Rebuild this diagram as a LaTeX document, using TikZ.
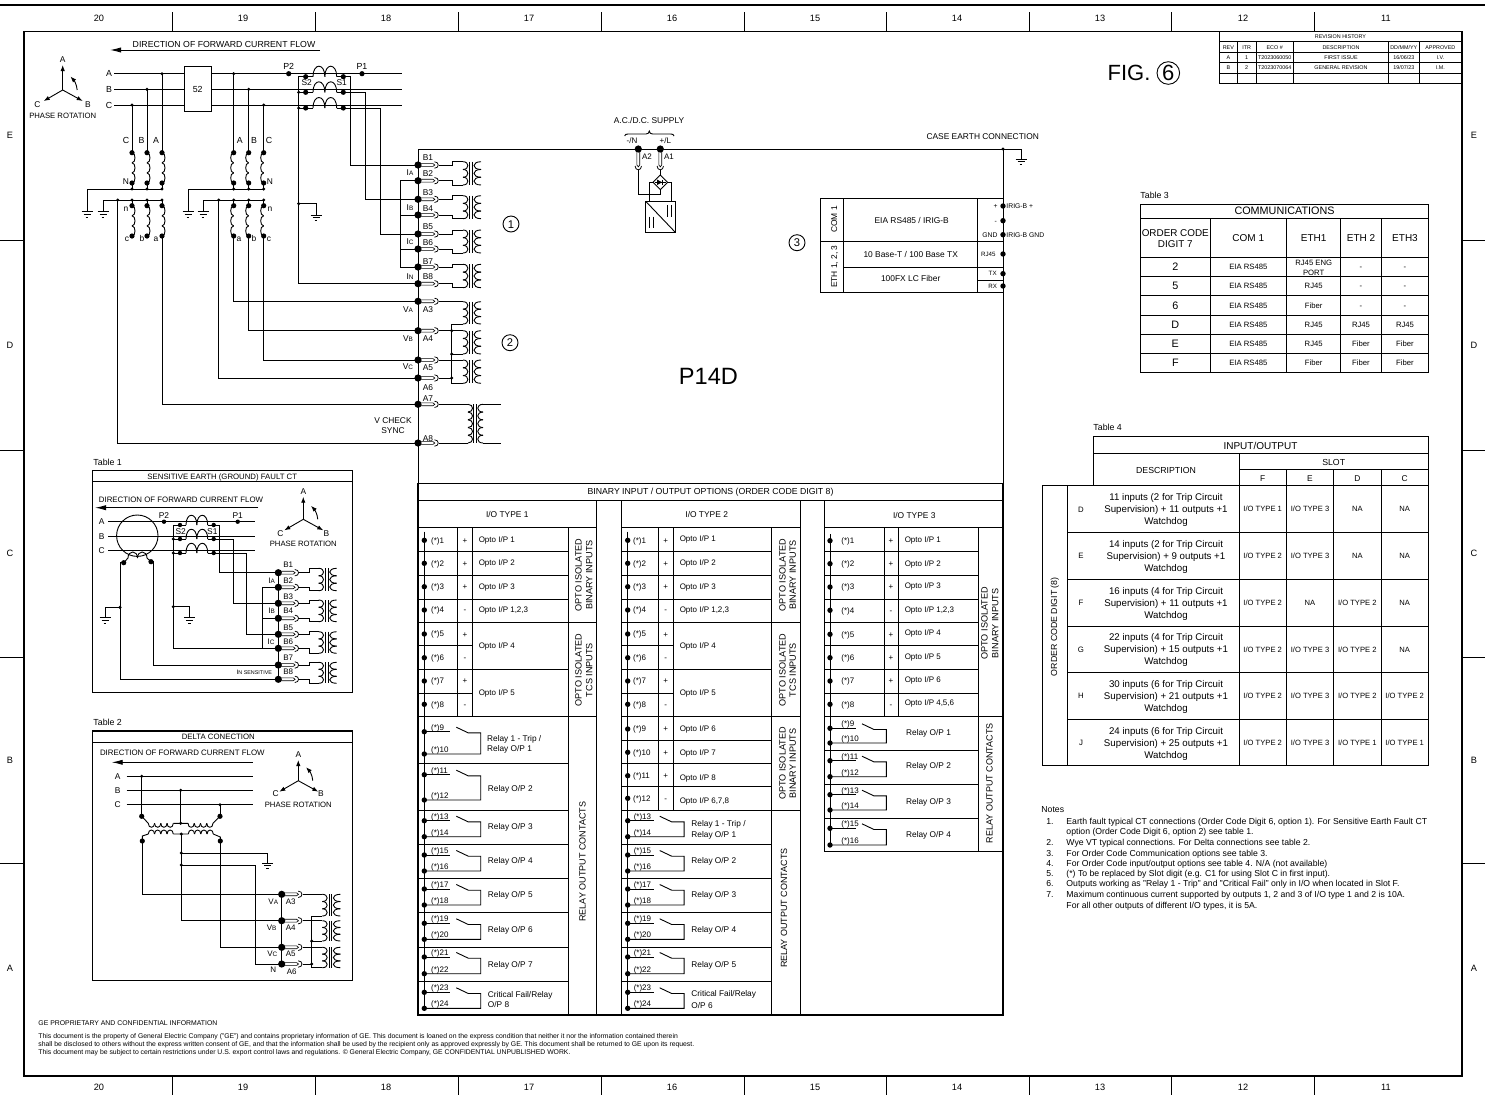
\documentclass[tikz,border=0pt]{standalone}
\usepackage{fontspec}
\setmainfont{Liberation Sans}
\usetikzlibrary{arrows.meta}
\newcounter{tn}
\newcommand{\tx}[4][]{\stepcounter{tn}\node[inner sep=0pt,text height=\the\dimexpr#3pt*72/100\relax,text depth=0pt,font=\fontsize{#3pt}{#3pt}\selectfont,#1] (t\arabic{tn}) at (#2) {#4};}
\newcommand{\subs}[2]{#1{\fontsize{3.2pt}{3.2pt}\selectfont #2}}
\newcommand{\sdot}[1]{\fill (#1) circle (1.7);}
\newcommand{\mdot}[1]{\fill (#1) circle (2.6);}
\newcommand{\coilV}[5]{\pgfmathsetmacro\cSt{(#3-#2)/#5}\foreach \i in {1,...,#5}{\pgfmathsetmacro\cA{#2+(\i-1)*\cSt}\pgfmathsetmacro\cB{#2+\i*\cSt}\draw (#1,\cA) .. controls (#1+#4,\cA) and (#1+#4,\cB) .. (#1,\cB);}}
\newcommand{\coilH}[5]{\pgfmathsetmacro\cSt{(#2-#1)/#5}\foreach \i in {1,...,#5}{\pgfmathsetmacro\cA{#1+(\i-1)*\cSt}\pgfmathsetmacro\cB{#1+\i*\cSt}\draw (\cA,#3) .. controls (\cA,#3+#4) and (\cB,#3+#4) .. (\cB,#3);}}
% terminal: name, x, y
\newcommand{\term}[3]{\coordinate (#1) at (#2,#3);\coordinate (#1-l) at (#2+21,#3);
 \fill (#1) circle (3.6);
 \draw[line width=.32pt] (#2,#3-1.4) -- (#2+15,#3-1.4) .. controls (#2+17.4,#3-1.4) and (#2+17.4,#3+1.4) .. (#2+15,#3+1.4) -- (#2,#3+1.4);
 \draw[line width=.38pt] (#2+16.5,#3-3.2) .. controls (#2+21.5,#3-3.2) and (#2+21.5,#3+3.2) .. (#2+16.5,#3+3.2);}
% transformer core + coils: core x, ytop, ybot
\newcommand{\xfmr}[3]{\coilV{#1-8}{#2}{#3}{6.5}{3}\coilV{#1+10}{#2}{#3}{-9.3}{3}
 \draw (#1-1.3,#2) -- (#1-1.3,#3) (#1+1.3,#2) -- (#1+1.3,#3);}
% CT aux transformer fed by two terminals: A, B, lead x, core x, ytop, ybot
\newcommand{\ctg}[6]{\xfmr{#4}{#5}{#6}
 \coordinate (lt) at (#3,#5);\coordinate (lb) at (#3,#6);
 \draw (#1-l) -- (#1-l -| lt) -- (lt) -- (#4-8,#5);
 \draw (#2-l) -- (#2-l -| lb) -- (lb) -- (#4-8,#6);}
\newcommand{\gnd}[1]{\begin{scope}[shift={(#1)}]\draw[line width=.5pt] (-5.5,0) -- (5.5,0) (-3.5,2.8) -- (3.5,2.8) (-1.3,5.7) -- (1.3,5.7);\end{scope}}
% phase rotation: x,y, A tip, A label, B/C label dx, dy, PR dy
\newcommand{\phrot}[7]{\begin{scope}[shift={(#1,#2)}]
 \draw[arr] (0,0) -- (0,#3);\draw[arr] (0,0) -- (20,11);\draw[arr] (0,0) -- (-19,11);
 \draw[arr] (14.5,0) .. controls (14,-6) and (11,-10) .. (7.7,-13.5);
 \tx{0,#4}{4.2}{A}\tx{#5,#6}{4.2}{B}\tx{-#5,#6}{4.2}{C}\tx{0,#7}{3.85}{PHASE ROTATION}\end{scope}}
\newcommand{\iot}[4]{\fill (#1,#4) circle (2.7);\tx[anchor=west]{#2,#4}{4}{(*)#3}}
\newcommand{\relay}[6]{\fill (#1,#5) circle (2.7);\fill (#1,#6) circle (2.7);
 \draw (#1,#5) -- (#1+26,#5);
 \draw (#1+32,#5-4.5) -- (#1+44,#5+1.2) -- (#1+56.4,#5+1.2) -- (#1+56.4,#6) -- (#1,#6);
 \tx[anchor=west]{#2,#5-4.5}{4}{(*)#3}\tx[anchor=west]{#2,#6-4.5}{4}{(*)#4}}
\newcommand{\rowC}[6]{\tx{1175.3,#1}{5.4}{#2}\tx{1248.3,#1}{3.85}{#3}\tx{1313.7,#1}{3.85}{#4}\tx{1361,#1}{3.85}{#5}\tx{1405,#1}{3.85}{#6}}
\newcommand{\rowD}[8]{\tx{1081,#1}{3.9}{#2}\tx{1166,#1-12}{4.85}{#3}\tx{1166,#1}{4.85}{#4}\tx{1166,#1+12}{4.85}{Watchdog}
 \tx{1262.7,#1}{3.8}{#5}\tx{1310,#1}{3.8}{#6}\tx{1357.3,#1}{3.8}{#7}\tx{1404.7,#1}{3.8}{#8}}
\tikzset{arr/.style={-{Latex[length=3pt,width=2.2pt]}},flow/.style={-{Latex[length=5.5pt,width=2.6pt]}}}
\begin{document}
\begin{tikzpicture}[x=0.5pt,y=-0.5pt,line width=0.45pt]
\useasboundingbox (0,0) rectangle (1485,1099);
\fill[white] (0,0) rectangle (1485,1099);
% ---------- sheet frame
\draw[line width=.6pt] (0,5) -- (1485,5);
\draw[line width=.55pt] (24,31.5) rectangle (1462,1076);
\foreach \x in {172,315,458,601,744,886,1029,1171,1314}{\draw (\x,12) -- (\x,31.5) (\x,1076) -- (\x,1095);}
\foreach \y in {240,450,657,863}{\draw (0,\y) -- (24,\y) (1462,\y) -- (1485,\y);}
\foreach \x/\n in {99/20,243/19,386/18,529/17,672/16,815/15,957/14,1100/13,1243/12,1386/11}{\tx{\x,18}{4.6}{\n}\tx{\x,1087}{4.6}{\n}}
\foreach \y/\n in {135/E,345/D,553/C,760/B,968/A}{\tx{10,\y}{4.6}{\n}\tx{1474,\y}{4.6}{\n}}
% ---------- revision table
\draw (1219.3,31.7) rectangle (1461.7,83.3);
\foreach \y in {41.7,52.7,62.7,73}{\draw (1219.3,\y) -- (1461.7,\y);}
\foreach \x in {1237.3,1256,1293.3,1388.7,1419}{\draw (\x,41.7) -- (\x,83.3);}
\tx{1340.5,36.7}{2.7}{REVISION HISTORY}
\foreach \x/\s in {1228.3/REV,1246.7/ITR,1274.7/ECO \#,1341/DESCRIPTION,1403.8/{DD/MM/YY},1440.3/APPROVED}{\tx{\x,47.2}{2.7}{\s}}
\foreach \x/\s in {1228.3/A,1246.7/1,1274.7/T2023060050,1341/FIRST ISSUE,1403.8/{16/06/23},1440.3/I.V.}{\tx{\x,57.7}{2.7}{\s}}
\foreach \x/\s in {1228.3/B,1246.7/2,1274.7/T2023070064,1341/GENERAL REVISION,1403.8/{19/07/23},1440.3/I.M.}{\tx{\x,67.8}{2.7}{\s}}
\tx{1129,72.5}{11}{FIG.}
\draw (1168.3,73) circle (11.3);\tx{1168.3,73}{11}{6}
% ---------- main current/phase inputs
\tx{224,44.7}{4.37}{DIRECTION OF FORWARD CURRENT FLOW}
\draw[flow] (320,50) -- (110,50);
\phrot{62.7}{90}{-25}{-31}{25.3}{14}{26}
\foreach \y/\n in {73.7/A,89.3/B,105/C}{\draw (114,\y) -- (401.7,\y);\tx{109,\y}{4.4}{\n}}
\draw[fill=white] (184,66.7) rectangle (211,111.3);\tx{197.7,89.7}{4.4}{52}
% terminals
\term{B1}{418}{165}\term{B2}{418}{180.7}\term{B3}{418}{199.3}\term{B4}{418}{215}
\term{B5}{418}{234}\term{B6}{418}{249}\term{B7}{418}{267}\term{B8}{418}{283.7}
\term{A3}{418}{301.3}\term{A4}{418}{330.7}\term{A5}{418}{360}\term{A6}{418}{378}
\term{A7}{418}{404.3}\term{A8}{418}{443}
\foreach \y/\n in {157.7/B1,173/B2,192.7/B3,208/B4,226/B5,242/B6,261/B7,276.7/B8,309.7/A3,338.7/A4,367.7/A5,387/A6,398.7/A7,438/A8}{\tx{428,\y}{4.2}{\n}}
\tx{410,172.7}{4.2}{\subs{I}{A}}\tx{410,207.7}{4.2}{\subs{I}{B}}\tx{410,241.7}{4.2}{\subs{I}{C}}\tx{410,276.7}{4.2}{\subs{I}{N}}
\tx{408,309.7}{4.2}{\subs{V}{A}}\tx{408,338.7}{4.2}{\subs{V}{B}}\tx{408,366.7}{4.2}{\subs{V}{C}}
\tx{393,420.7}{4.2}{V CHECK}\tx{393,430.5}{4.2}{SYNC}
% VTs
\foreach \x/\d/\y in {132/4/105,147/4/89.3,162/4/73.7,233.7/-4/73.7,248.7/-4/89.3,263.7/-4/105}{
 \draw (\x,\y) -- (\x,152.7) (\x,183) -- (\x,189) (\x,200) -- (\x,205.7);
 \coilV{\x}{152.7}{183}{\d}{3}\coilV{\x}{205.7}{236}{\d}{3}
 \sdot{\x,\y}\mdot{\x,152.7}\mdot{\x,183}\sdot{\x,189}\sdot{\x,200}\mdot{\x,205.7}\mdot{\x,236}}
\foreach \x/\n in {126/C,141.6/B,156/A,239.7/A,254/B,269/C}{\tx{\x,140}{4.4}{\n}}
\draw (87,211.7) -- (87,189) -- (162,189) (103,211.7) -- (103,200) -- (162,200);
\draw (188,211.7) -- (188,189) -- (263.7,189) (203,211.7) -- (203,200) -- (263.7,200);
\gnd{87,211.7}\gnd{103,211.7}\gnd{188,211.7}\gnd{203,211.7}
\tx{126,181}{4.2}{N}\tx{270,181}{4.2}{N}\tx{126,208}{4.2}{n}\tx{270,208}{4.2}{n}
\tx{127,238}{4.2}{c}\tx{142,238}{4.2}{b}\tx{156,238}{4.2}{a}\tx{239,238}{4.2}{a}\tx{254,238}{4.2}{b}\tx{269,238}{4.2}{c}
\sdot{117.7,200}\sdot{218.7,200}
\draw (117.7,200) -- (117.7,443) -- (A8);
\draw (162,236) -- (162,404.3) -- (A7);
\draw (218.7,200) -- (218.7,378) -- (A6);
\draw (233.7,236) -- (233.7,301.3) -- (A3);
\draw (248.7,236) -- (248.7,330.7) -- (A4);
\draw (263.7,236) -- (263.7,360) -- (A5);
% CTs
\fill (288.7,73.7) circle (2.6);\fill (362,73.7) circle (2.6);
\tx{288.7,66}{4.4}{P2}\tx{362,66}{4.4}{P1}
\tx{306.7,82.7}{4.2}{S2}\tx{341.7,82.7}{4.2}{S1}
\foreach \y in {76.7,92.3,108}{\draw (305.7,\y) -- (313,\y) (336.7,\y) -- (343.3,\y);\coilH{313}{336.7}{\y}{-14}{2}\mdot{305.7,\y}\mdot{343.3,\y}}
\draw (305.7,76.7) -- (298.7,76.7) -- (298.7,283.7) -- (B8);
\draw (298.7,92.3) -- (305.7,92.3) (298.7,108) -- (305.7,108);
\sdot{298.7,92.3}\sdot{298.7,108}\sdot{298.7,203.7}
\draw (298.7,203.7) -- (316,203.7) -- (316,215);\gnd{316,215}
\draw (343.3,76.7) -- (350.3,76.7) -- (350.3,165) -- (B1);
\draw (343.3,92.3) -- (365.3,92.3) -- (365.3,199.3) -- (B3);
\draw (343.3,108) -- (380.3,108) -- (380.3,234) -- (B5);
\draw (B2) -- (400,180.7) -- (400,267) -- (B7);
\draw (400,215) -- (B4) (400,249) -- (B6);
% CT aux transformers
\ctg{B1}{B2}{452}{471}{161.7}{185}
\ctg{B3}{B4}{452}{471}{195.7}{218.7}
\ctg{B5}{B6}{452}{471}{230}{253}
\ctg{B7}{B8}{452}{471}{264.3}{287.7}
% VT aux transformers
\xfmr{471}{301.7}{324}\xfmr{471}{330.7}{354}\xfmr{471}{360}{383.3}
\draw (A3-l) -- (463,301.3);\draw (A4-l) -- (463,330.7);\draw (A5-l) -- (463,360);
\draw (463,324) -- (451.7,324) -- (451.7,383.3) -- (463,383.3);
\draw (451.7,354) -- (463,354);\draw (A6-l) -- (451.7,378);
\sdot{451.7,330.7}\sdot{451.7,354}\sdot{451.7,378}
% sync transformer
\coilV{468}{404.3}{443}{6}{5}\coilV{483}{404.3}{443}{-7}{5}
\draw (473.7,404.3) -- (473.7,443) (476.3,404.3) -- (476.3,443);
\draw (A7-l) -- (468,404.3);\draw (A8-l) -- (468,443);
\draw (483,404.3) -- (501,404.3) (483,443) -- (501,443);
\draw (418,149) -- (418,1015);
\draw (418,149) -- (1021,149) -- (1021,159);\gnd{1021,159}
\sdot{1003,149}\draw (1003,149) -- (1003,1015);
\tx{982.7,136}{4.2}{CASE EARTH CONNECTION}
\draw (511,224) circle (8);\tx{511,224}{5.6}{1}
\draw (510,342.7) circle (8);\tx{510,342.7}{5.6}{2}
\draw (797,242.7) circle (8);\tx{797,242.7}{5.6}{3}
% ---------- aux supply
\tx{649,120.7}{4.2}{A.C./D.C. SUPPLY}
\draw (624.7,136) .. controls (625,134.5) and (626,134) .. (628,134) -- (646,134) .. controls (648,134) and (649,133) .. (649.3,131) .. controls (649.6,133) and (650.6,134) .. (652.6,134) -- (670.7,134) .. controls (672.7,134) and (673.7,134.5) .. (674,136);
\tx{632,140.7}{4}{-/N}\tx{665.3,140.7}{4}{+/L}\tx{647,157}{4}{A2}\tx{669,157}{4}{A1}
\foreach \x in {638.3,660.3}{\fill (\x,149) circle (3.6);
 \draw[line width=.32pt] (\x-1.4,149) -- (\x-1.4,165) .. controls (\x-1.4,167.4) and (\x+1.4,167.4) .. (\x+1.4,165) -- (\x+1.4,149);
 \draw[line width=.38pt] (\x-3.2,166) .. controls (\x-3.2,171) and (\x+3.2,171) .. (\x+3.2,166);}
\draw (638.3,170) -- (638.3,194.3) -- (660.3,194.3) -- (660.3,189.6);
\draw (660.3,170) -- (660.3,175);
\draw (660.3,175) -- (667.6,182.3) -- (660.3,189.6) -- (653,182.3) -- cycle;
\draw (654.5,182.3) -- (666,182.3) (662.6,179.8) -- (662.6,184.8);
\fill (657,179.6) -- (662.3,182.3) -- (657,185) -- cycle;
\draw (653,182.3) -- (649.3,182.3) -- (649.3,201.3);
\draw (667.6,182.3) -- (671.7,182.3) -- (671.7,201.3);
\draw (645.7,201.3) rectangle (675.3,232.3);
\draw (645.7,201.3) -- (675.3,232.3);
\draw (667.3,205) -- (667.3,216.7) (671.3,205) -- (671.3,216.7);
\draw (649.3,216.7) -- (649.3,228.3) (653.3,216.7) -- (653.3,228.3);
% ---------- comms block
\draw (820.7,198.7) rectangle (1003,292.3);
\draw (820.7,241.3) -- (1003,241.3);
\draw (843.3,198.7) -- (843.3,292.3) (977.7,198.7) -- (977.7,292.3);
\draw (843.3,267) -- (1003,267) (977.7,280.3) -- (1003,280.3);
\tx[rotate=90]{834,219.3}{4.2}{COM 1}\tx[rotate=90]{834,266.7}{4.2}{ETH 1, 2, 3}
\tx{911.7,220}{4.2}{EIA RS485 / IRIG-B}\tx{910.7,254}{4.2}{10 Base-T / 100 Base TX}\tx{910.7,278}{4.2}{100FX LC Fiber}
\tx{995.7,206}{3.4}{+}\tx{995.7,220.7}{3.4}{-}\tx{990,234.7}{3.4}{GND}\tx{988.3,254}{3.1}{RJ45}\tx{992.7,273.7}{3.1}{TX}\tx{992.7,286}{3.1}{RX}
\foreach \y in {206,220.7,234.7,254,273.7,286}{\fill (1003,\y) circle (2.7);}
\tx[anchor=west]{1006,206}{3.4}{IRIG-B +}\tx[anchor=west]{1006,234.7}{3.4}{IRIG-B GND}
\tx{708.5,376}{11.8}{P14D}
% ---------- table 1
\tx[anchor=west]{93,462.7}{4.4}{Table 1}
\draw[line width=.55pt] (92.7,470.7) rectangle (352.3,692.3);
\draw (92.7,481.3) -- (352.3,481.3);
\tx{222.3,476.5}{3.9}{SENSITIVE EARTH (GROUND) FAULT CT}
\tx{181,500}{3.93}{DIRECTION OF FORWARD CURRENT FLOW}
\draw[flow] (258.3,507.7) -- (95,507.7);
\phrot{303.3}{519.3}{-22.6}{-28}{23}{13.7}{24}
\foreach \y/\n in {521.7/A,536/B,550/C}{\draw (108.3,\y) -- (255,\y);\tx{101.7,\y}{4.2}{\n}}
\draw (137.3,535.7) circle (20.7);
\draw (123.7,562.7) -- (128,558);\coilH{128}{147}{558}{-8}{2}\draw (147,558) -- (151,561.7);
\mdot{123.7,562.7}\mdot{151,561.7}
\fill (164,521.7) circle (2.2);\fill (237.7,521.7) circle (2.2);
\tx{164,515}{4.2}{P2}\tx{237.7,515}{4.2}{P1}\tx{180.7,531}{4.2}{S2}\tx{212.3,531}{4.2}{S1}
\foreach \y in {525,539,553}{\draw (180,\y) -- (186,\y) (207.7,\y) -- (213.7,\y);\coilH{186}{207.7}{\y}{-13}{2}\fill (180,\y) circle (2.2);\fill (213.7,\y) circle (2.2);}
\term{tB1}{278.3}{572.7}\term{tB2}{278.3}{587.3}\term{tB3}{278.3}{603.3}\term{tB4}{278.3}{618.3}
\term{tB5}{278.3}{634.3}\term{tB6}{278.3}{648.3}\term{tB7}{278.3}{665}\term{tB8}{278.3}{679.3}
\draw (tB1) -- (tB8);
\foreach \y/\n in {565/B1,580.7/B2,596.7/B3,611/B4,628/B5,641.7/B6,658/B7,672/B8}{\tx{288.3,\y}{4}{\n}}
\tx{271.7,580.7}{4}{\subs{I}{A}}\tx{271.7,611}{4}{\subs{I}{B}}\tx{271,642}{4}{\subs{I}{C}}
\tx{254.3,672}{3.2}{I{\fontsize{2.7pt}{2.7pt}\selectfont N SENSITIVE}}
\draw (123.7,562.7) -- (120,562.7) -- (120,679.3) -- (tB8);
\draw (151,561.7) -- (153.3,561.7) -- (153.3,665) -- (tB7);
\sdot{120,607.3}\draw (120,607.3) -- (105,607.3) -- (105,617.7);\gnd{105,617.7}
\draw (180,525) -- (173.3,525) -- (173.3,648.3) -- (tB6);
\draw (173.3,539) -- (180,539) (173.3,553) -- (180,553);
\sdot{173.3,539}\sdot{173.3,553}\sdot{173.3,606.7}
\draw (173.3,606.7) -- (189.3,606.7) -- (189.3,617.7);\gnd{189.3,617.7}
\draw (213.7,525) -- (219.3,525) -- (219.3,572.7) -- (tB1);
\draw (213.7,539) -- (233.3,539) -- (233.3,603.3) -- (tB3);
\draw (213.7,553) -- (246.7,553) -- (246.7,634.3) -- (tB5);
\draw (tB2) -- (262.7,587.3) -- (262.7,648.3);\draw (262.7,618.3) -- (tB4);
\ctg{tB1}{tB2}{309}{326.7}{568.3}{590.7}
\ctg{tB3}{tB4}{309}{326.7}{600}{621.7}
\ctg{tB5}{tB6}{309}{326.7}{631.7}{653.3}
\ctg{tB7}{tB8}{309}{326.7}{662.3}{683.3}
% ---------- table 2
\tx[anchor=west]{93,722.7}{4.4}{Table 2}
\draw[line width=.55pt] (92.7,731) rectangle (352.3,980.7);
\draw (92.7,742.7) -- (352.3,742.7);
\tx{218.3,737}{3.9}{DELTA CONECTION}
\tx{182.3,752.7}{3.94}{DIRECTION OF FORWARD CURRENT FLOW}
\draw[flow] (252.7,762.3) -- (111.7,762.3);
\phrot{298.3}{780.7}{-20.7}{-26.7}{22.7}{13}{24.3}
\foreach \y/\n in {776.3/A,790.3/B,804.7/C}{\draw (126.7,\y) -- (252.7,\y);\tx{117.7,\y}{4.2}{\n}}
\draw (141.7,776.3) -- (141.7,816.3) (180.7,790.3) -- (180.7,823.3) (220,804.7) -- (220,816.3);
\sdot{141.7,776.3}\sdot{180.7,790.3}\sdot{220,804.7}\mdot{141.7,816.3}\mdot{220,816.3}\sdot{180.7,823.3}
\draw (141.7,816.3) -- (148.3,823.3) (173.3,823.3) -- (188,823.3) (220,816.3) -- (213,823.3);
\coilH{148.3}{173.3}{823.3}{5.3}{4}\coilH{188}{213}{823.3}{5.3}{4}
\draw (142.3,841) -- (142.3,836) -- (148.3,834) (173.3,834) -- (188.3,834) (213.3,834) -- (220.3,837) -- (220.3,841);
\coilH{148.3}{173.3}{834}{-5.3}{4}\coilH{188.3}{213.3}{834}{-5.3}{4}
\mdot{142.3,841}\mdot{220.3,841}\sdot{181.3,834}\sdot{181.3,853}\sdot{181.3,865}
\term{dA3}{281.7}{894.3}\term{dA4}{281.7}{920.7}\term{dA5}{281.7}{947.3}\term{dA6}{281.7}{964}
\draw (dA3) -- (dA6);
\draw (142.3,841) -- (142.3,894.3) -- (dA3);
\draw (181.3,834) -- (181.3,920.7) -- (dA4);
\draw (220.3,841) -- (220.3,947.3) -- (dA5);
\draw (181.3,853) -- (267.7,853) -- (267.7,863);\gnd{267.7,863}
\draw (181.3,865) -- (255,865) -- (255,964) -- (dA6);
\tx{273.3,901.7}{4}{\subs{V}{A}}\tx{290.7,902}{4}{A3}\tx{271.7,927.7}{4}{\subs{V}{B}}\tx{290.7,928}{4}{A4}
\tx{272.3,954}{4}{\subs{V}{C}}\tx{290.7,954}{4}{A5}\tx{273.3,970}{4}{N}\tx{291.7,971.7}{4}{A6}
\xfmr{330.3}{894.3}{916}\xfmr{330.3}{920.7}{941}\xfmr{330.3}{947.3}{967.7}
\draw (dA3-l) -- (322.3,894.3);\draw (dA4-l) -- (322.3,920.7);\draw (dA5-l) -- (322.3,947.3);
\draw (322.3,916) -- (311.7,916) -- (311.7,967.7) -- (322.3,967.7);
\draw (311.7,941) -- (322.3,941);\draw (dA6-l) -- (311.7,964);
\sdot{311.7,941}\sdot{311.7,964}
% ---------- binary I/O block
\draw[line width=.55pt] (418,483.3) rectangle (1003,1015);
\draw (418,500.7) -- (1003,500.7);
\tx{710.5,491.5}{4.36}{BINARY INPUT / OUTPUT OPTIONS (ORDER CODE DIGIT 8)}
\draw (596.7,500.7) -- (596.7,1015) (621.3,500.7) -- (621.3,1015) (800,500.7) -- (800,1015) (824.3,500.7) -- (824.3,851.7) -- (1003,851.7);
\foreach \a/\b in {418/596.7,621.3/800,824.3/1003}{\draw (\a,527.7) -- (\b,527.7);}
\tx{507.3,514.3}{4.2}{I/O TYPE 1}\tx{706.7,514.3}{4.2}{I/O TYPE 2}\tx{914.3,515}{4.2}{I/O TYPE 3}
% type 1
\foreach \y in {551.7,575.7,599,622.3,669,716.7,763.7,810.3,844.3,878.3,912.3,947,981}{\draw (418,\y) -- (568.7,\y);}
\draw (418,645.7) -- (472.3,645.7) (418,693) -- (472.3,693);
\draw (457.7,527.7) -- (457.7,716.7) (472.3,527.7) -- (472.3,716.7) (568.7,527.7) -- (568.7,1015);
\draw (568.7,622.3) -- (596.7,622.3) (568.7,716.7) -- (596.7,716.7);
\draw (424.3,531.7) -- (424.3,1008.3);
\foreach \n/\y in {1/540.3,2/563.3,3/586.7,4/610,5/634,6/657.7,7/681,8/704.3}{\iot{424.3}{430.7}{\n}{\y}}
\foreach \y/\s in {540.3/+,563.3/+,586.7/+,610/-,635/+,657.7/-,680.7/+,704.3/-}{\tx{465,\y}{4}{\s}}
\foreach \y/\s in {540/{Opto I/P 1},562.7/{Opto I/P 2},586.7/{Opto I/P 3},646/{Opto I/P 4},692.7/{Opto I/P 5}}{\tx[anchor=west]{478.3,\y}{4}{\s}}
\tx[anchor=west]{478.3,609.3}{4}{Opto I/P 1,2,3}
\relay{424.3}{430.7}{9}{10}{731.7}{754}\relay{424.3}{430.7}{11}{12}{774.7}{800}
\relay{424.3}{430.7}{13}{14}{820.7}{836.7}\relay{424.3}{430.7}{15}{16}{855}{871}
\relay{424.3}{430.7}{17}{18}{889}{905}\relay{424.3}{430.7}{19}{20}{923.3}{939.3}
\relay{424.3}{430.7}{21}{22}{957}{973.7}\relay{424.3}{430.7}{23}{24}{992.3}{1008.3}
\tx[anchor=west]{486.7,738}{4.15}{Relay 1 - Trip /}\tx[anchor=west]{486.7,749}{4.15}{Relay O/P 1}
\foreach \y/\s in {788.7/{Relay O/P 2},826.7/{Relay O/P 3},860.7/{Relay O/P 4},894/{Relay O/P 5},929.7/{Relay O/P 6},964.7/{Relay O/P 7},994/{Critical Fail/Relay},1004.3/{O/P 8}}{\tx[anchor=west]{487.5,\y}{4.15}{\s}}
\tx[rotate=90]{578.3,575}{4.55}{OPTO ISOLATED}\tx[rotate=90]{589,575}{4.55}{BINARY INPUTS}
\tx[rotate=90]{578.3,670}{4.55}{OPTO ISOLATED}\tx[rotate=90]{589,670}{4.55}{TCS INPUTS}
\tx[rotate=90]{582.3,861.7}{4.5}{RELAY OUTPUT CONTACTS}
% type 2
\foreach \y in {551.7,575.7,599,622.3,669,716.7,740,763.7,786.7,810.3,844.3,878.3,912.3,947,981}{\draw (621.3,\y) -- (771.7,\y);}
\draw (621.3,645.7) -- (673,645.7) (621.3,693) -- (673,693);
\draw (658.3,527.7) -- (658.3,810.3) (673,527.7) -- (673,810.3) (771.7,527.7) -- (771.7,1015);
\foreach \y in {622.3,716.7,810.3}{\draw (771.7,\y) -- (800,\y);}
\draw (627.7,531.7) -- (627.7,1008.3);
\foreach \n/\y in {1/540.3,2/563.3,3/586.7,4/610,5/634,6/657.7,7/681,8/704.3,9/729,10/752.3,11/775.7,12/798.3}{\iot{627.7}{632.7}{\n}{\y}}
\foreach \y/\s in {540.3/+,563.3/+,586.7/+,610/-,635/+,657.7/-,680.7/+,704.3/-,729/+,752.7/+,775.7/+,798.3/-}{\tx{665.7,\y}{4}{\s}}
\foreach \y/\s in {539/{Opto I/P 1},562.7/{Opto I/P 2},586.7/{Opto I/P 3},646/{Opto I/P 4},692.7/{Opto I/P 5},729/{Opto I/P 6},752.7/{Opto I/P 7},777.3/{Opto I/P 8}}{\tx[anchor=west]{679.3,\y}{4}{\s}}
\tx[anchor=west]{679.3,609.3}{4}{Opto I/P 1,2,3}\tx[anchor=west]{679.3,800.7}{4}{Opto I/P 6,7,8}
\relay{627.7}{633.3}{13}{14}{820.7}{836.7}\relay{627.7}{633.3}{15}{16}{855}{871}
\relay{627.7}{633.3}{17}{18}{889}{905}\relay{627.7}{633.3}{19}{20}{923.3}{939.3}
\relay{627.7}{633.3}{21}{22}{957}{973.7}\relay{627.7}{633.3}{23}{24}{992.3}{1008.3}
\foreach \y/\s in {824/{Relay 1 - Trip /},834/{Relay O/P 1},860.7/{Relay O/P 2},894/{Relay O/P 3},929.7/{Relay O/P 4},964.7/{Relay O/P 5},993/{Critical Fail/Relay},1005/{O/P 6}}{\tx[anchor=west]{691,\y}{4.15}{\s}}
\tx[rotate=90]{782.3,575}{4.55}{OPTO ISOLATED}\tx[rotate=90]{792.7,575}{4.55}{BINARY INPUTS}
\tx[rotate=90]{782.3,670}{4.55}{OPTO ISOLATED}\tx[rotate=90]{792.7,670}{4.55}{TCS INPUTS}
\tx[rotate=90]{782.3,763.5}{4.55}{OPTO ISOLATED}\tx[rotate=90]{792.7,763.5}{4.55}{BINARY INPUTS}
\tx[rotate=90]{784,908}{4.5}{RELAY OUTPUT CONTACTS}
% type 3
\foreach \y in {551.7,575.7,599,622.3,645.7,669.3,693,750.3,784.3,818.3}{\draw (824.3,\y) -- (978.3,\y);}
\draw (824.3,716) -- (1003,716);
\draw (884,527.7) -- (884,716) (898.3,527.7) -- (898.3,716) (978.3,527.7) -- (978.3,851.7);
\draw (830,534) -- (830,845);
\foreach \n/\y in {1/540.7,2/563.7,3/587,4/610.3,5/634.3,6/657.7,7/681,8/704.3}{\iot{830}{841}{\n}{\y}}
\foreach \y/\s in {540.7/+,563.7/+,587/+,610.3/-,634.3/+,657.7/+,681/+,704.3/-}{\tx{891,\y}{4}{\s}}
\foreach \y/\s in {539.3/{Opto I/P 1},563.3/{Opto I/P 2},586/{Opto I/P 3},633/{Opto I/P 4},656.3/{Opto I/P 5},679.3/{Opto I/P 6}}{\tx[anchor=west]{904.3,\y}{4}{\s}}
\tx[anchor=west]{904.3,610}{4}{Opto I/P 1,2,3}\tx[anchor=west]{904.3,702.7}{4}{Opto I/P 4,5,6}
\relay{830}{841}{9}{10}{728.3}{743}\relay{830}{841}{11}{12}{760.7}{776.7}
\relay{830}{841}{13}{14}{794.7}{810}\relay{830}{841}{15}{16}{828.3}{845}
\foreach \y/\s in {732.7/{Relay O/P 1},765.7/{Relay O/P 2},801.7/{Relay O/P 3},834.3/{Relay O/P 4}}{\tx[anchor=west]{905.7,\y}{4.15}{\s}}
\tx[rotate=90]{984.3,623.3}{4.55}{OPTO ISOLATED}\tx[rotate=90]{995,623.3}{4.55}{BINARY INPUTS}
\tx[rotate=90]{989.3,783.3}{4.5}{RELAY OUTPUT CONTACTS}
% ---------- table 3
\tx[anchor=west]{1140,195}{4.4}{Table 3}
\draw (1140.7,204) rectangle (1428.3,372.3);
\foreach \y in {218.7,257.3,276.7,295.7,315,334.3,353.3}{\draw (1140.7,\y) -- (1428.3,\y);}
\foreach \x in {1210,1286.7,1340.7,1381.7}{\draw (\x,218.7) -- (\x,372.3);}
\tx{1284.5,211}{5.4}{COMMUNICATIONS}
\tx{1175.3,232.7}{4.95}{ORDER CODE}\tx{1175.3,244}{4.95}{DIGIT 7}
\tx{1248.3,238}{5}{COM 1}\tx{1313.7,238}{5}{ETH1}\tx{1361,238}{5}{ETH 2}\tx{1405,238}{5}{ETH3}
\rowC{266.7}{2}{EIA RS485}{}{-}{-}\tx{1313.7,262.5}{3.85}{RJ45 ENG}\tx{1313.7,272.3}{3.85}{PORT}
\rowC{286}{5}{EIA RS485}{RJ45}{-}{-}
\rowC{305.3}{6}{EIA RS485}{Fiber}{-}{-}
\rowC{324.7}{D}{EIA RS485}{RJ45}{RJ45}{RJ45}
\rowC{343.7}{E}{EIA RS485}{RJ45}{Fiber}{Fiber}
\rowC{362.7}{F}{EIA RS485}{Fiber}{Fiber}{Fiber}
% ---------- table 4
\tx[anchor=west]{1093,427}{4.4}{Table 4}
\draw (1093.3,436.7) -- (1428.3,436.7) -- (1428.3,765.7) -- (1042.7,765.7) -- (1042.7,485.7) -- (1093.3,485.7) -- cycle;
\draw (1093.3,453.7) -- (1428.3,453.7) (1239,469.7) -- (1428.3,469.7);
\draw (1042.7,485.7) -- (1428.3,485.7);
\foreach \y in {532.7,579.3,626,672.7,719.3}{\draw (1067.7,\y) -- (1428.3,\y);}
\draw (1067.7,485.7) -- (1067.7,765.7) (1239,453.7) -- (1239,765.7);
\foreach \x in {1286.3,1333.7,1381}{\draw (\x,469.7) -- (\x,765.7);}
\tx{1260.5,445.5}{5}{INPUT/OUTPUT}\tx{1166,470}{4.37}{DESCRIPTION}\tx{1333.7,462}{4.37}{SLOT}
\tx{1262.7,478}{4.2}{F}\tx{1310,478}{4.2}{E}\tx{1357.3,478}{4.2}{D}\tx{1404.7,478}{4.2}{C}
\tx[rotate=90]{1054,626.7}{4.4}{ORDER CODE DIGIT (8)}
\rowD{509.2}{D}{11 inputs (2 for Trip Circuit}{Supervision) + 11 outputs +1}{I/O TYPE 1}{I/O TYPE 3}{NA}{NA}
\rowD{556}{E}{14 inputs (2 for Trip Circuit}{Supervision) + 9 outputs +1}{I/O TYPE 2}{I/O TYPE 3}{NA}{NA}
\rowD{602.7}{F}{16 inputs (4 for Trip Circuit}{Supervision) + 11 outputs +1}{I/O TYPE 2}{NA}{I/O TYPE 2}{NA}
\rowD{649.3}{G}{22 inputs (4 for Trip Circuit}{Supervision) + 15 outputs +1}{I/O TYPE 2}{I/O TYPE 3}{I/O TYPE 2}{NA}
\rowD{696}{H}{30 inputs (6 for Trip Circuit}{Supervision) + 21 outputs +1}{I/O TYPE 2}{I/O TYPE 3}{I/O TYPE 2}{I/O TYPE 2}
\rowD{742.5}{J}{24 inputs (6 for Trip Circuit}{Supervision) + 25 outputs +1}{I/O TYPE 2}{I/O TYPE 3}{I/O TYPE 1}{I/O TYPE 1}
% ---------- notes
\tx[anchor=west]{1041,809.7}{4.34}{Notes}
\foreach \y/\n in {821.7/1.,842.7/2.,853/3.,863.3/4.,873.7/5.,883.7/6.,894.3/7.}{\tx{1050,\y}{4.34}{\n}}
\tx[anchor=west]{1066,821.7}{4.34}{Earth fault typical CT connections (Order Code Digit 6, option 1). For Sensitive Earth Fault CT}
\tx[anchor=west]{1066,831.7}{4.34}{option (Order Code Digit 6, option 2) see table 1.}
\tx[anchor=west]{1066,842.7}{4.34}{Wye VT typical connections. For Delta connections see table 2.}
\tx[anchor=west]{1066,853}{4.34}{For Order Code Communication options see table 3.}
\tx[anchor=west]{1066,863.3}{4.34}{For Order Code input/output options see table 4. N/A (not available)}
\tx[anchor=west]{1066,873.7}{4.34}{(*) To be replaced by Slot digit (e.g. C1 for using Slot C in first input).}
\tx[anchor=west]{1066,883.7}{4.34}{Outputs working as "Relay 1 - Trip" and "Critical Fail" only in I/O when located in Slot F.}
\tx[anchor=west]{1066,894.3}{4.34}{Maximum continuous current supported by outputs 1, 2 and 3 of I/O type 1 and  2 is 10A.}
\tx[anchor=west]{1066,905}{4.34}{For all other outputs of different I/O types, it is 5A.}
% ---------- proprietary text
\tx[anchor=west]{38,1023}{3.44}{GE PROPRIETARY AND CONFIDENTIAL INFORMATION}
\tx[anchor=west]{38,1036}{3.42}{This document is the property of General Electric Company ("GE") and contains proprietary information of GE. This document is loaned on the express condition that neither it nor the information contained therein}
\tx[anchor=west]{38,1044}{3.42}{shall be disclosed to others without the express written consent of GE, and that the information shall be used by the recipient only as approved expressly by GE. This document shall be returned to GE upon its request.}
\tx[anchor=west]{38,1052}{3.42}{This document may be subject to certain restrictions under U.S. export control laws and regulations. © General Electric Company, GE CONFIDENTIAL UNPUBLISHED WORK.}
\end{tikzpicture}
\end{document}
